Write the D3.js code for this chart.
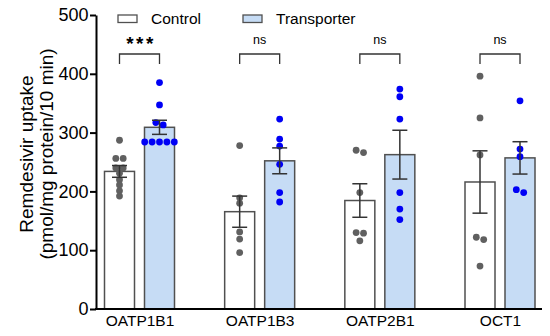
<!DOCTYPE html>
<html><head><meta charset="utf-8">
<script src="https://cdn.jsdelivr.net/npm/d3@7"></script>
<style>
html,body{margin:0;padding:0;background:#fff;}
text{font-family:"Liberation Sans",Arial,Helvetica,sans-serif;}
</style></head>
<body><svg id="chart" width="550" height="336"></svg>
<script>
const categories = ["OATP1B1", "OATP1B3", "OATP2B1", "OCT1"];
const series = ["Control", "Transporter"];
const controlMeans = [234, 165.5, 184.5, 216];
const controlSEM = [10, 26.5, 28.5, 53];
const transporterMeans = [309, 252, 262.5, 257];
const transporterSEM = [12, 22, 41.5, 27.5];
const controlPoints = [
  [287, 256, 256, 240, 240, 231, 220, 211, 201, 192],
  [278, 189, 180, 131, 119, 96],
  [270, 266, 198, 130, 129, 116],
  [396, 325, 262, 122, 118, 73]
];
const transporterPoints = [
  [385, 347, 317, 313, 284, 284, 284, 284, 284],
  [323, 289, 277, 246, 198, 182],
  [374, 361, 323, 198, 170, 152],
  [354, 272, 259, 203, 198]
];
const significance = ["***", "ns", "ns", "ns"];
const yTicks = [0, 100, 200, 300, 400, 500];

const svg = d3.select("#chart");
const yTop = 15, yBottom = 309, xLeft = 96, xRight = 542;

const y = d3.scaleLinear().domain([0, 500]).range([yBottom, yTop]);
const x = d3.scalePoint().domain(categories).range([139.5, 500]);
const xs = d3.scaleBand().domain(series).range([-35, 35]).paddingInner(0.25);

const fills = {Control: "#ffffff", Transporter: "#c6dcf5"};
const dotColors = {Control: "#606060", Transporter: "#0000f5"};
const means = {Control: controlMeans, Transporter: transporterMeans};
const sems = {Control: controlSEM, Transporter: transporterSEM};
const pts = {Control: controlPoints, Transporter: transporterPoints};

const rows = [];
categories.forEach((c, i) => series.forEach(s => rows.push({c, i, s})));

// bars
svg.append("g").selectAll("rect").data(rows).join("rect")
  .attr("x", d => x(d.c) + xs(d.s))
  .attr("y", d => y(means[d.s][d.i]))
  .attr("width", xs.bandwidth())
  .attr("height", d => y(0) - y(means[d.s][d.i]))
  .attr("fill", d => fills[d.s])
  .attr("stroke", "#505050")
  .attr("stroke-width", 1.5);

// points (row-based swarm)
const r = 3.4, spacing = 7.4, rowTol = 5;
const dots = [];
rows.forEach(d => {
  const vals = pts[d.s][d.i].slice().sort((a, b) => b - a);
  const cx = x(d.c) + xs(d.s) + xs.bandwidth() / 2;
  let groups = [];
  vals.forEach(v => {
    const g = groups[groups.length - 1];
    if (g && (y(v) - y(g[0])) < rowTol) g.push(v); else groups.push([v]);
  });
  groups.forEach(g => g.forEach((v, k) => {
    dots.push({cx: cx + (k - (g.length - 1) / 2) * spacing, cy: y(v), s: d.s});
  }));
});
svg.append("g").selectAll("circle").data(dots).join("circle")
  .attr("cx", d => d.cx).attr("cy", d => d.cy).attr("r", r)
  .attr("fill", d => dotColors[d.s]);

// error bars
const eb = svg.append("g").attr("stroke", "#333").attr("stroke-width", 1.5).attr("fill", "none");
rows.forEach(d => {
  const cx = x(d.c) + xs(d.s) + xs.bandwidth() / 2;
  const m = means[d.s][d.i], e = sems[d.s][d.i];
  eb.append("line").attr("x1", cx).attr("x2", cx).attr("y1", y(m + e)).attr("y2", y(m - e));
  eb.append("line").attr("x1", cx - 7.5).attr("x2", cx + 7.5).attr("y1", y(m + e)).attr("y2", y(m + e));
  eb.append("line").attr("x1", cx - 7.5).attr("x2", cx + 7.5).attr("y1", y(m - e)).attr("y2", y(m - e));
});

// y axis
const yAxis = svg.append("g").attr("transform", `translate(${xLeft},0)`)
  .call(d3.axisLeft(y).tickValues(yTicks).tickSize(6).tickSizeOuter(0).tickPadding(1.5));
yAxis.select(".domain").attr("stroke", "#000").attr("stroke-width", 2);
yAxis.selectAll(".tick line").attr("stroke", "#000").attr("stroke-width", 2);
yAxis.selectAll(".tick text").attr("font-size", 18).attr("fill", "#000")
  .style("font-family", "'Liberation Sans', Arial, sans-serif");

// x axis
const xAxis = svg.append("g").attr("transform", `translate(0,${yBottom})`)
  .call(d3.axisBottom(x).tickSize(0).tickPadding(6));
xAxis.select(".domain").remove();
xAxis.selectAll(".tick text").attr("font-size", 15.5).attr("fill", "#000")
  .style("font-family", "'Liberation Sans', Arial, sans-serif");
svg.append("line").attr("x1", xLeft - 1).attr("x2", xRight).attr("y1", yBottom).attr("y2", yBottom)
  .attr("stroke", "#000").attr("stroke-width", 2);

// y title
const yt = svg.append("text").attr("transform", "rotate(-90)").attr("text-anchor", "middle")
  .attr("font-size", 19).attr("fill", "#000");
yt.append("tspan").attr("x", -154).attr("y", 33).text("Remdesivir uptake");
yt.append("tspan").attr("x", -154).attr("y", 53).text("(pmol/mg protein/10 min)");

// significance brackets
const br = svg.append("g");
categories.forEach((c, i) => {
  const x1 = x(c) + xs("Control") + xs.bandwidth() / 2;
  const x2 = x(c) + xs("Transporter") + xs.bandwidth() / 2;
  br.append("path").attr("d", `M${x1},64V54H${x2}V64`).attr("fill", "none")
    .attr("stroke", "#333").attr("stroke-width", 1.3);
  const star = significance[i] === "***";
  br.append("text").attr("x", (x1 + x2) / 2 + (star ? 1.5 : 0)).attr("y", star ? 50 : 44)
    .attr("text-anchor", "middle").attr("font-size", star ? 19 : 12.5)
    .attr("font-weight", star ? "bold" : "normal")
    .attr("letter-spacing", star ? 2.5 : 0).attr("fill", "#000").text(significance[i]);
});

// legend
const legendX = [118, 243];
const lg = svg.append("g");
series.forEach((s, k) => {
  lg.append("rect").attr("x", legendX[k]).attr("y", 15).attr("width", 19).attr("height", 7.5)
    .attr("fill", fills[s]).attr("stroke", "#505050").attr("stroke-width", 1.3);
  lg.append("text").attr("x", legendX[k] + 33).attr("y", 24).attr("font-size", 15.5)
    .attr("fill", "#000").text(s);
});
</script></body></html>
